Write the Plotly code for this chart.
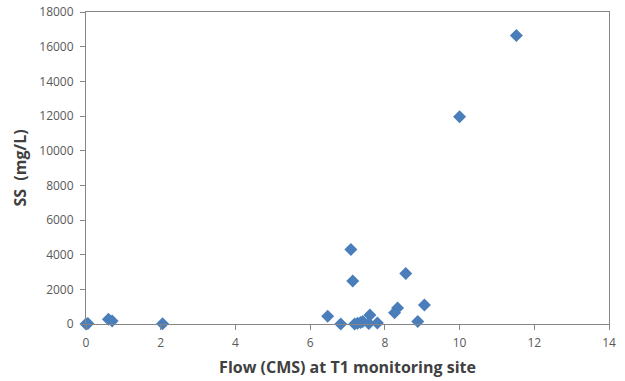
import plotly.graph_objects as go

flow = [0.0, 0.05, 0.6, 0.7, 2.05, 6.47, 6.82, 7.09, 7.14, 7.19, 7.27, 7.35, 7.41, 7.57, 7.6, 7.8, 8.26, 8.34, 8.56, 8.88, 9.06, 10.0, 11.52]
ss = [0, 30, 280, 180, 20, 440, 0, 4300, 2480, 0, 40, 80, 150, 30, 520, 60, 650, 920, 2920, 150, 1100, 11960, 16650]

fig = go.Figure(go.Scatter(
    x=flow, y=ss, mode="markers", cliponaxis=False,
    marker=dict(symbol="diamond", size=10, color="#4a7ebb", line=dict(width=0)),
))

axis_common = dict(
    showgrid=False, zeroline=False, showline=True, linecolor="#868686", linewidth=1,
    ticks="outside", ticklen=5, tickcolor="#868686", mirror=True, automargin=False,
    tickfont=dict(family="Open Sans", size=12, color="#595959"),
)
fig.update_layout(
    width=625, height=381,
    margin=dict(l=86, r=16, t=12, b=57),
    paper_bgcolor="white", plot_bgcolor="white",
    showlegend=False,
    font=dict(family="Open Sans"),
    xaxis=dict(range=[0, 14], dtick=2, ticklabelstandoff=3,
               title=dict(text="<b>Flow (CMS) at T1 monitoring site</b>",
               font=dict(size=16, color="#404040"), standoff=11), **axis_common),
    yaxis=dict(range=[0, 18000], dtick=2000, tickformat="d", ticklabelstandoff=4,
               title=dict(text="<b>SS  (mg/L)</b>",
               font=dict(size=16, color="#404040"), standoff=8), **axis_common),
)
fig.write_html("out.html")
